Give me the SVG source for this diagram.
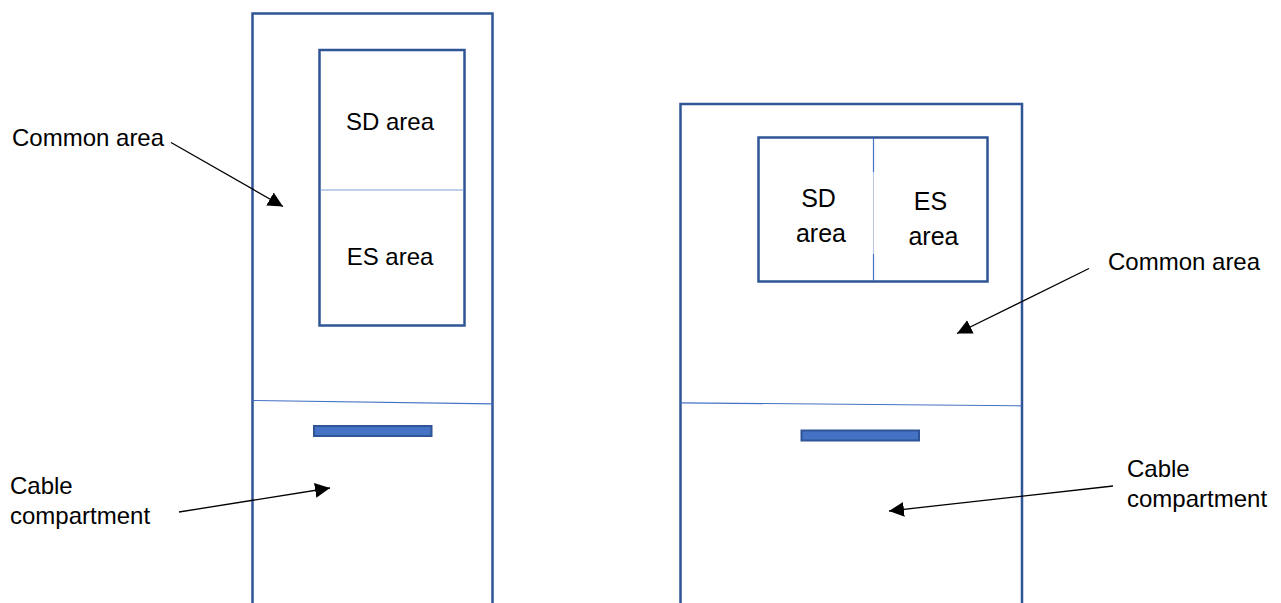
<svg xmlns="http://www.w3.org/2000/svg" width="1281" height="603" viewBox="0 0 1281 603">
<defs>
<style>
.frame{fill:none;stroke:#2F5597;stroke-width:2.5}
.box{fill:#fff;stroke:#2F5597;stroke-width:2.5}
.div{fill:none;stroke:#4472C4;stroke-width:1.2}
.light{fill:none;stroke:#7F9FD6;stroke-width:1.2}
.slot{fill:#4472C4;stroke:#2F5597;stroke-width:2}
.lbl{font-family:"Liberation Sans",Arial,sans-serif;font-size:24px;fill:#000}
.big{font-size:25px}
.c{text-anchor:middle}
.arr{fill:none;stroke:#000;stroke-width:1.3;marker-end:url(#ah)}
</style>
<marker id="ah" markerUnits="userSpaceOnUse" markerWidth="16" markerHeight="16" refX="15" refY="7.5" orient="auto">
<path d="M0,0 L15,7.5 L0,15 Z" fill="#000"/>
</marker>
</defs>
<rect width="1281" height="603" fill="#fff"/>

<g id="left-cabinet">
<path class="frame" d="M252.5,603 V13.5 H492.5 V603"/>
<path class="div" d="M252.5,400.5 L492.5,403.8"/>
<rect class="slot" x="314" y="426" width="117.5" height="10"/>
</g>
<g id="left-inner">
<rect class="box" x="319.5" y="50" width="145" height="275.5"/>
<line class="light" x1="320.5" y1="190" x2="463.5" y2="190"/>
<text class="lbl c" x="390" y="129.5">SD area</text>
<text class="lbl c" x="390" y="265">ES area</text>
</g>

<g id="right-cabinet">
<path class="frame" d="M680.5,603 V104 H1022 V603"/>
<path class="div" d="M680.5,402.8 L1022,405.8"/>
<rect class="slot" x="801.5" y="430.5" width="117.5" height="10"/>
</g>
<g id="right-inner">
<rect class="box" x="758.5" y="137.5" width="229" height="144"/>
<line x1="873.5" y1="138" x2="873.5" y2="281" stroke="#B4C7E7" stroke-width="1"/>
<line class="div" x1="873.5" y1="138" x2="873.5" y2="172"/>
<line class="div" x1="873.5" y1="254" x2="873.5" y2="281"/>
<text class="lbl big c" x="818.5" y="207">SD</text>
<text class="lbl big c" x="821" y="242">area</text>
<text class="lbl big c" x="930.5" y="210">ES</text>
<text class="lbl big c" x="933.5" y="245">area</text>
</g>

<g id="labels">
<text class="lbl" x="12" y="146">Common area</text>
<text class="lbl" x="10" y="493.5">Cable</text>
<text class="lbl" x="10" y="523.5">compartment</text>
<text class="lbl" x="1108" y="269.5">Common area</text>
<text class="lbl" x="1127" y="477">Cable</text>
<text class="lbl" x="1127" y="507">compartment</text>
</g>

<g id="connectors">
<line class="arr" x1="171" y1="142.5" x2="283" y2="206.5"/>
<line class="arr" x1="179" y1="512" x2="330" y2="488"/>
<line class="arr" x1="1089" y1="268.5" x2="957" y2="333.5"/>
<line class="arr" x1="1113" y1="486" x2="889" y2="511"/>
</g>
</svg>
